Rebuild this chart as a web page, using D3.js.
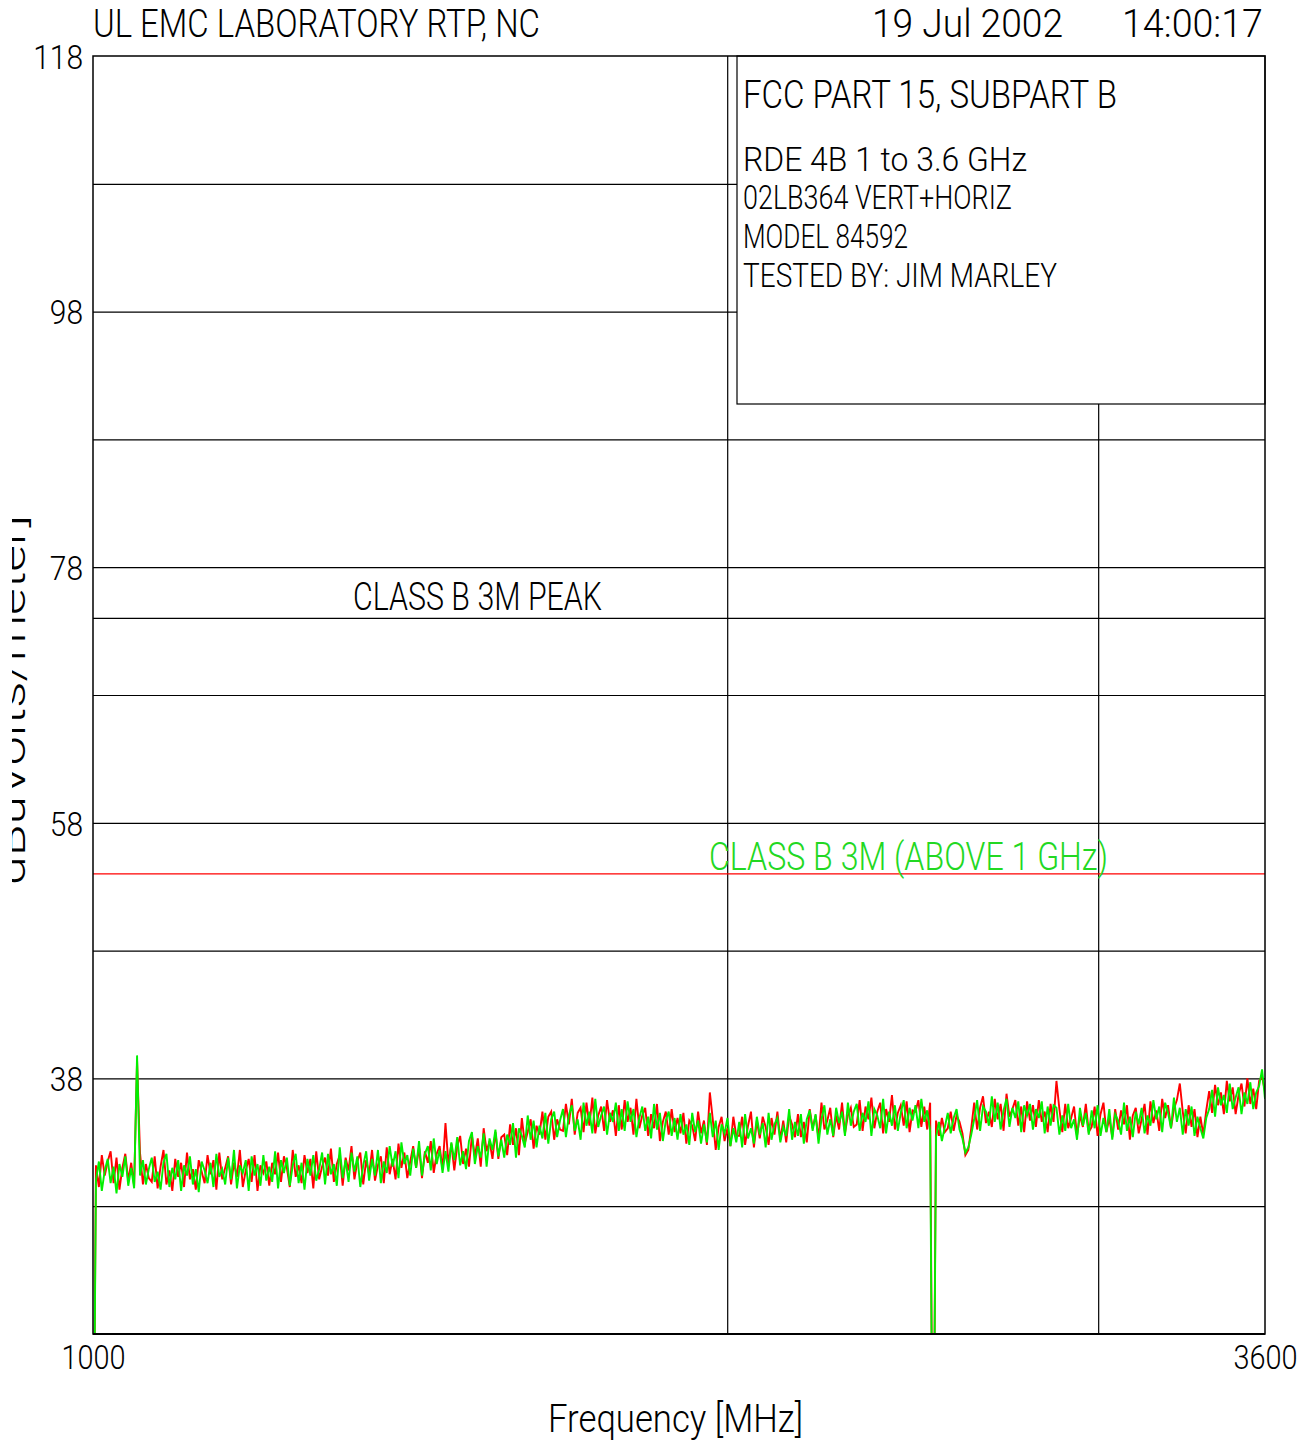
<!DOCTYPE html>
<html><head><meta charset="utf-8">
<script src="https://cdn.jsdelivr.net/npm/d3@7"></script>
<style>body{margin:0;background:#fff}svg{display:block}</style>
</head><body>
<svg id="chart" width="1313" height="1445"></svg>
<script>
// ---------- data ----------
const freqStart = 1000, freqStop = 3600, nPoints = 400;   // log-spaced sweep grid (MHz)
const yTickValues = [118, 98, 78, 58, 38];
const yGridValues = [108, 98, 88, 78, 68, 58, 48, 38, 28];
const xTickValues = [1000, 3600];
const xGridValues = [2000, 3000];
const peakLimit = 74;       // CLASS B 3M PEAK
const avgLimit = 54;        // CLASS B 3M (ABOVE 1 GHz)
const titleLeft = "UL EMC LABORATORY RTP, NC";
const titleDate = "19 Jul 2002";
const titleTime = "14:00:17";
const infoLines = ["FCC PART 15, SUBPART B", "RDE 4B 1 to 3.6 GHz", "02LB364 VERT+HORIZ", "MODEL 84592", "TESTED BY: JIM MARLEY"];
const xLabel = "Frequency [MHz]";
const yLabel = "dBuVolts/meter]";

// trace 1 (red) dBuV/m
const traceRed = [
0,31.2,29.5,32.0,30.4,31.5,32.3,29.8,31.8,29.3,31.0,32.1,30.0,31.4,29.6,39.4,32.2,29.7,31.3,30.2,
29.9,31.9,29.4,31.1,32.4,29.7,30.8,29.2,31.7,30.3,31.4,29.5,32.2,30.1,30.9,29.3,31.6,30.7,29.8,32.0,
30.5,31.6,29.3,32.2,30.1,31.0,31.9,29.7,31.4,30.3,32.4,29.5,30.8,31.7,29.9,32.0,29.2,31.2,30.6,31.5,
29.6,31.4,30.5,32.2,29.9,31.9,31.0,29.5,32.4,30.3,31.2,29.8,32.0,30.6,31.7,29.4,32.3,30.1,31.1,31.8,
30.4,32.5,29.9,31.3,32.0,29.6,31.8,30.8,32.7,30.1,31.5,32.2,29.7,31.6,30.5,32.4,30.0,31.2,31.9,29.8,
32.6,30.5,31.7,30.1,32.9,31.0,32.2,30.2,31.5,32.7,31.0,32.6,30.2,32.3,31.4,33.1,30.6,32.1,32.7,30.9,
34.5,31.3,32.9,30.8,32.7,33.5,31.3,32.5,31.1,33.5,31.9,33.3,31.1,34.1,32.3,33.1,31.7,33.8,31.7,33.4,
33.6,32.0,34.4,32.8,34.1,32.0,34.9,32.9,33.8,34.8,32.5,34.3,33.6,35.4,33.2,35.0,35.4,33.2,34.8,34.0,
33.9,36.0,34.4,36.4,33.6,35.3,35.7,33.8,36.1,34.3,36.5,33.7,35.1,35.8,33.9,36.3,34.6,35.5,33.5,35.9,
34.0,36.3,34.6,35.7,33.6,36.4,34.1,35.1,35.7,33.5,35.2,34.1,36.0,33.1,34.6,35.4,33.6,35.6,33.8,34.9,
33.7,35.3,32.9,34.7,34.3,33.1,35.4,33.7,34.7,32.8,36.9,34.8,32.4,34.2,35.0,33.1,34.1,32.7,35.0,33.5,
33.5,35.0,32.8,34.3,35.4,32.6,34.7,33.3,35.0,34.2,32.8,34.9,33.6,35.4,33.2,34.7,33.0,35.1,34.4,33.4,
35.2,33.4,34.6,33.0,35.6,34.1,35.1,33.3,36.1,34.0,34.7,35.7,33.4,35.1,34.0,36.1,33.7,35.1,35.7,34.2,
34.4,36.3,33.9,35.8,34.8,36.5,34.1,35.4,36.1,33.7,35.6,34.6,36.7,34.0,35.3,35.9,34.3,36.2,33.8,35.5,
35.4,36.3,34.2,35.8,34.0,36.1,0,34.7,33.5,34.9,33.8,34.1,35.4,33.9,35.1,34.6,33.7,32.0,32.4,34.1,
36.1,34.0,35.7,36.6,34.5,35.4,34.2,36.4,34.8,36.0,33.9,36.8,35.0,35.6,36.3,34.3,35.8,33.8,36.2,34.7,
35.9,34.2,36.3,34.6,35.4,33.8,36.0,34.6,37.8,35.6,33.8,36.0,34.1,34.9,35.8,33.5,35.1,34.2,36.0,33.8,
34.2,35.8,33.5,35.2,36.1,33.8,34.9,33.4,35.6,34.0,35.5,34.4,35.9,33.2,35.1,35.7,33.7,34.8,36.0,33.6,
36.2,34.5,35.5,33.9,36.4,34.9,35.9,34.1,35.6,36.3,37.6,35.4,33.7,35.9,34.2,35.6,33.4,35.0,33.6,35.5,
37.0,35.3,37.5,35.9,36.9,35.2,37.8,36.2,37.3,35.2,36.7,37.6,35.8,38.0,36.0,37.2,35.6,37.8,38.1,37.0
];
// trace 2 (green) dBuV/m
const traceGreen = [
0,30.0,31.5,29.2,30.8,31.7,29.8,31.1,29.0,31.3,30.3,31.9,29.6,31.0,29.4,39.8,30.4,31.6,29.7,30.9,
31.8,29.9,30.7,29.3,31.4,32.1,29.5,31.0,30.1,31.6,29.2,31.2,30.4,31.9,29.7,30.9,29.1,31.5,30.8,29.8,
31.4,29.5,32.1,30.3,30.9,29.7,31.8,30.1,32.4,29.4,31.2,30.6,31.6,29.2,31.9,30.4,31.3,29.6,32.0,30.0,
31.1,29.9,32.3,29.4,31.6,30.6,31.8,29.6,31.2,32.1,29.8,31.4,29.3,31.7,30.4,32.0,30.0,30.9,32.2,29.7,
32.1,30.5,31.3,29.6,32.6,30.2,31.6,29.9,32.2,30.7,31.9,29.5,31.2,32.3,30.0,31.7,30.4,32.4,29.8,31.5,
30.6,32.7,31.1,32.3,30.2,33.0,31.3,32.0,30.4,32.5,31.0,33.1,30.4,32.1,32.7,30.8,33.3,31.3,32.4,30.6,
32.3,30.7,33.0,31.6,33.4,31.2,32.3,30.9,33.1,33.8,31.3,32.7,31.8,33.7,31.1,33.3,32.4,34.0,31.9,33.2,
31.8,33.6,32.8,34.5,31.8,34.1,33.5,32.6,35.1,33.2,34.7,32.6,34.3,33.3,35.3,32.9,34.8,35.4,33.4,34.7,
35.6,33.4,35.1,35.9,33.9,34.8,33.2,36.1,34.3,35.4,33.7,36.4,34.2,35.1,35.8,33.6,35.3,34.6,36.1,33.9,
35.6,33.9,36.2,34.6,35.6,33.4,34.9,35.8,33.9,35.0,33.3,36.0,34.0,35.3,33.1,34.7,35.4,33.5,34.9,33.2,
35.2,33.6,34.4,32.8,35.3,33.8,34.7,32.9,34.4,33.0,35.3,33.4,34.7,32.4,34.4,33.7,34.9,32.7,34.1,33.0,
34.6,32.6,35.2,33.3,34.1,32.9,35.0,33.6,34.5,32.6,35.3,33.2,34.4,34.9,33.0,34.2,33.5,35.6,33.2,34.6,
33.5,35.2,32.9,34.8,35.5,33.9,35.2,32.9,34.8,35.9,33.6,34.8,33.5,35.7,34.5,35.4,33.5,36.1,34.3,35.4,
36.0,33.9,35.3,34.6,36.2,33.5,35.6,35.1,34.1,36.4,33.7,35.4,34.3,35.9,33.9,35.3,36.3,34.1,35.7,34.7,
35.9,34.1,36.4,34.6,35.5,33.9,0,33.4,34.6,33.1,34.2,35.3,33.7,34.9,35.6,34.0,33.3,32.2,32.6,33.6,
34.8,36.3,33.9,35.8,35.4,34.3,36.6,34.6,36.1,34.0,35.5,36.4,34.2,35.7,34.9,36.2,33.8,35.9,35.1,36.0,
34.0,35.6,34.9,36.2,33.7,35.8,34.3,35.9,35.7,33.6,35.1,33.9,36.0,34.1,34.8,33.2,35.7,34.3,35.3,33.6,
35.5,34.1,35.9,33.5,34.9,33.8,35.6,33.2,35.2,34.7,33.6,36.1,33.9,35.0,33.4,35.4,34.4,35.7,33.7,35.1,
34.3,36.3,34.8,35.8,33.8,36.1,35.3,34.1,36.5,34.6,35.7,33.6,35.6,34.3,35.8,33.5,35.0,34.1,33.3,34.9,
35.6,37.1,35.0,37.3,35.9,36.7,35.3,37.6,35.6,36.5,37.3,35.2,36.9,36.0,37.7,35.6,36.9,37.4,38.7,36.4
];

// ---------- layout ----------
const W = 1313, H = 1445;
const L = 93, R = 1265, T = 56, B = 1334;
const FONT = "Roboto, 'Liberation Sans Narrow', 'DejaVu Sans Condensed', sans-serif";
const RED = "#ff0000", GREEN = "#00f000", LABEL_GREEN = "#22d822";

const svg = d3.select("#chart");
const x = d3.scaleLog().domain([freqStart, freqStop]).range([L, R]);
const y = d3.scaleLinear().domain([18, 118]).range([B, T]);

const freqs = d3.range(nPoints).map(i => freqStart * Math.pow(freqStop / freqStart, i / (nPoints - 1)));

function txt(g, str, px, py, size, len, opts = {}) {
  const t = g.append("text")
    .attr("x", px).attr("y", py)
    .attr("font-family", FONT)
    .attr("font-weight", opts.weight || 300)
    .attr("font-size", size)
    .attr("fill", opts.fill || "#000")
    .attr("text-anchor", opts.anchor || "start")
    .text(str);
  if (len) t.attr("textLength", len).attr("lengthAdjust", "spacingAndGlyphs");
  return t;
}

// horizontal grid (via axis)
const gridY = svg.append("g").attr("transform", `translate(${L},0)`)
  .call(d3.axisLeft(y).tickValues(yGridValues).tickSize(-(R - L)).tickFormat(""));
gridY.select(".domain").remove();
gridY.selectAll(".tick line").attr("stroke", "#000").attr("stroke-width", 1.2);

// vertical grid (via axis)
const gridX = svg.append("g").attr("transform", `translate(0,${B})`)
  .call(d3.axisBottom(x).tickValues(xGridValues).tickSize(-(B - T)).tickFormat(""));
gridX.select(".domain").remove();
gridX.selectAll(".tick line").attr("stroke", "#000").attr("stroke-width", 1.2);

// peak limit (black)
svg.append("line").attr("x1", L).attr("x2", R).attr("y1", y(peakLimit)).attr("y2", y(peakLimit))
  .attr("stroke", "#000").attr("stroke-width", 1.2);

// info box
svg.append("rect").attr("x", 737).attr("y", T).attr("width", R - 737).attr("height", 404 - T)
  .attr("fill", "#fff").attr("stroke", "#000").attr("stroke-width", 1.2);

// average limit (red)
svg.append("line").attr("x1", L).attr("x2", R).attr("y1", y(avgLimit)).attr("y2", y(avgLimit))
  .attr("stroke", RED).attr("stroke-width", 1.3);

// traces
svg.append("clipPath").attr("id", "plotclip").append("rect")
  .attr("x", L).attr("y", T).attr("width", R - L).attr("height", B - T);
const line = d3.line().x(d => x(d[0])).y(d => y(d[1]));
const n = Math.min(nPoints, traceRed.length, traceGreen.length);
const redPts = d3.range(n).map(i => [freqs[i], traceRed[i]]);
const greenPts = d3.range(n).map(i => [freqs[i], traceGreen[i]]);
const tg = svg.append("g").attr("clip-path", "url(#plotclip)");
tg.append("path").attr("d", line(redPts)).attr("fill", "none").attr("stroke", RED).attr("stroke-width", 1.9);
tg.append("path").attr("d", line(greenPts)).attr("fill", "none").attr("stroke", GREEN).attr("stroke-width", 1.9);

// plot frame
svg.append("rect").attr("x", L).attr("y", T).attr("width", R - L).attr("height", B - T)
  .attr("fill", "none").attr("stroke", "#000").attr("stroke-width", 1.5);
svg.append("line").attr("x1", L).attr("x2", R).attr("y1", B).attr("y2", B)
  .attr("stroke", "#000").attr("stroke-width", 2.2);

// y tick labels (axis)
const yAxis = svg.append("g").attr("transform", `translate(${L},0)`)
  .call(d3.axisLeft(y).tickValues(yTickValues).tickSize(0).tickPadding(10).tickFormat(d3.format("d")));
yAxis.select(".domain").remove();
yAxis.selectAll("text")
  .attr("font-family", FONT).attr("font-weight", 300).attr("font-size", 34).attr("fill", "#000")
  .attr("dy", "0.36em")
  .attr("textLength", d => String(d).length * 16.6).attr("lengthAdjust", "spacingAndGlyphs");

// x tick labels (axis)
const xAxis = svg.append("g").attr("transform", `translate(0,${B})`)
  .call(d3.axisBottom(x).tickValues(xTickValues).tickSize(0).tickPadding(11).tickFormat(d3.format("d")));
xAxis.select(".domain").remove();
xAxis.selectAll("text")
  .attr("font-family", FONT).attr("font-weight", 300).attr("font-size", 34).attr("fill", "#000")
  .attr("textLength", 64).attr("lengthAdjust", "spacingAndGlyphs");

// header
txt(svg, titleLeft, 93, 37, 38, 447);
txt(svg, titleDate, 872, 37, 38, 191);
txt(svg, titleTime, 1122, 37, 38, 141);

// info box lines
const infoY = [108, 171, 209, 248, 287];
const infoLen = [374, 284, 269, 165, 314];
infoLines.forEach((s, i) => txt(svg, s, 743, infoY[i], i === 0 ? 38 : 33, infoLen[i]));

// limit labels
txt(svg, "CLASS B 3M PEAK", 353, 610, 38, 249);
txt(svg, "CLASS B 3M (ABOVE 1 GHz)", 709, 870, 38, 399, { fill: LABEL_GREEN });

// axis titles
txt(svg, xLabel, 548, 1432, 38, 255);
svg.append("clipPath").attr("id", "ylabclip").append("rect")
  .attr("x", 12).attr("y", 0).attr("width", 40).attr("height", H);
const yl = svg.append("g").attr("clip-path", "url(#ylabclip)");
txt(yl, yLabel, 0, 0, 38, 370, { anchor: "middle" })
  .attr("transform", "translate(25,700) rotate(-90)");
</script>
</body></html>
